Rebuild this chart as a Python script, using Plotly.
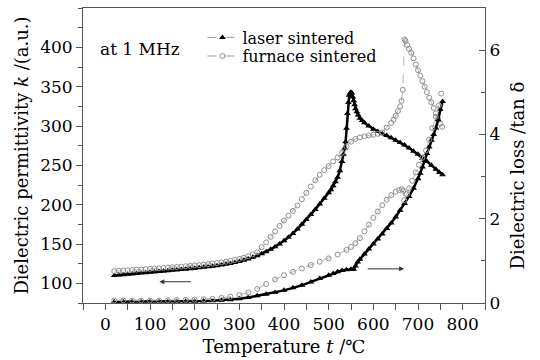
import plotly.graph_objects as go

# ---- Data ----
laser_perm_T = [20,30,40,50,60,70,80,90,100,110,120,130,140,150,160,170,180,190,200,210,220,230,240,250,
                260,270,280,290,300,310,320,330,340,350,360,370,380,390,400,410,420,430,440,450,460,470,480,490,
                500,505,510,515,520,525,530,533,536,538,540,542,544,546,548,550,552,554,556,558,560,563,566,570,
                575,580,590,600,610,620,630,640,650,660,670,680,690,700,710,720,730,740,748,755]
laser_perm_k = [110,110.5,111,111.5,112,112.5,113,113.5,114,114.5,115,115.5,116,116.5,117,117.5,118,118.5,119,
                119.7,120.4,121.1,121.8,122.5,123.3,124.2,125.2,126.4,127.8,129.3,131,133,135.2,137.6,140.2,143.2,
                146.5,150,154,158.5,163.5,169,175,181,187.5,194,201,208,215,219,224,229,235,243,255,264,272,280,
                297,316,330,339,342,343,342,337,332,327,322,318,314,310,307,304,300,296,293,290,288,285,282,279,
                276,272,268,264,259,255,250,245,241,238]

furnace_perm_T = [20,30,40,50,60,70,80,90,100,110,120,130,140,150,160,170,180,190,200,210,220,230,240,250,
                  260,270,280,290,300,310,320,330,340,350,360,370,380,390,400,410,420,430,440,450,460,470,480,490,
                  500,510,520,530,540,550,560,570,580,590,600,610,620,630,640,645,650,655,660,663,666,670,672,676,
                  680,685,690,695,700,705,710,715,720,725,730,735,740,745,750,754]
furnace_perm_k = [115.5,116,116.3,116.6,117,117.3,117.6,118,118.4,118.8,119.2,119.6,120,120.4,120.8,121.2,121.7,
                  122.2,122.7,123.2,123.8,124.4,125.1,125.8,126.6,127.5,128.5,129.7,131,132.6,134.5,136.8,139.5,
                  146,152,159,166,173,180,186,192,199,207,215,223,231,238,244,249,255,260,266,274,280,283.5,285.5,
                  287,288,289,290,292,298,304,308,313,319,325,332,346,410,408,403,398,393,386,378,371,364,357,350,
                  343,336,330,323,316,309,303,299]

laser_loss_T = [20,40,60,80,100,120,140,160,180,200,220,240,260,280,300,320,340,360,380,400,420,440,460,480,
                500,510,520,530,540,550,556,560,565,570,580,590,600,610,620,630,640,650,660,670,680,690,700,705,
                710,715,720,725,730,735,740,745,750,755]
laser_loss = [0.03,0.03,0.03,0.03,0.03,0.03,0.03,0.035,0.04,0.04,0.045,0.055,0.065,0.08,0.1,0.13,0.17,0.21,
              0.25,0.3,0.36,0.42,0.5,0.58,0.66,0.7,0.74,0.77,0.79,0.8,0.8,0.88,0.97,1.04,1.16,1.28,1.4,1.52,1.64,
              1.77,1.9,2.04,2.2,2.36,2.53,2.72,2.95,3.08,3.23,3.38,3.55,3.7,3.86,4.0,4.15,4.35,4.6,4.78]

furnace_loss_T = [20,40,60,80,100,120,140,160,180,200,220,240,260,280,300,320,340,360,380,400,420,440,460,480,
                  500,520,540,550,560,570,580,590,600,610,620,630,640,650,658,664,667,669,675,680,687,695,702,710,
                  718,725,732,740,747,752]
furnace_loss = [0.06,0.06,0.06,0.06,0.06,0.06,0.065,0.07,0.075,0.08,0.09,0.1,0.12,0.15,0.19,0.25,0.33,0.45,
                0.56,0.66,0.74,0.82,0.9,0.98,1.06,1.15,1.26,1.33,1.42,1.54,1.7,1.86,2.02,2.17,2.32,2.45,2.56,2.64,
                2.68,2.7,2.66,2.44,2.58,2.72,2.9,3.1,3.28,3.45,3.62,3.88,4.15,4.42,4.69,4.97]

x_ticks = [0, 100, 200, 300, 400, 500, 600, 700, 800]
k_ticks = [100, 150, 200, 250, 300, 350, 400]
loss_ticks = [0, 2, 4, 6]

series_names = ["laser sintered", "furnace sintered"]

FONT = "DejaVu Serif"
AX = "#555555"
GRAY = "#8f8f8f"

fig = go.Figure()

laser_marker = dict(symbol="triangle-up", size=6, color="black")
furn_marker = dict(symbol="circle-open", size=5, color=GRAY, line=dict(width=1))

fig.add_trace(go.Scatter(x=laser_perm_T, y=laser_perm_k, mode="lines+markers",
                         line=dict(color="black", width=2.5), marker=laser_marker,
                         showlegend=False, yaxis="y"))
fig.add_trace(go.Scatter(x=laser_loss_T, y=laser_loss, mode="lines+markers",
                         line=dict(color="black", width=2.5), marker=laser_marker,
                         showlegend=False, yaxis="y2"))
fig.add_trace(go.Scatter(x=furnace_perm_T, y=furnace_perm_k, mode="lines+markers",
                         line=dict(color="#b5b5b5", width=1, dash="dash"), marker=furn_marker,
                         showlegend=False, yaxis="y"))
fig.add_trace(go.Scatter(x=furnace_loss_T, y=furnace_loss, mode="lines+markers",
                         line=dict(color="#b5b5b5", width=1, dash="dash"), marker=furn_marker,
                         showlegend=False, yaxis="y2"))

# legend entries (no data points of their own)
fig.add_trace(go.Scatter(x=[None], y=[None], name=series_names[0], mode="lines+markers",
                         line=dict(color="#9a9a9a", width=1, dash="dash"), marker=laser_marker,
                         legend="legend"))
fig.add_trace(go.Scatter(x=[None], y=[None], name=series_names[1], mode="lines+markers",
                         line=dict(color="#9a9a9a", width=1, dash="dash"), marker=furn_marker,
                         legend="legend2"))

fig.update_layout(
    width=540, height=360,
    margin=dict(l=83, r=55, t=7, b=53),
    paper_bgcolor="white", plot_bgcolor="white",
    font=dict(family=FONT, size=17, color="black"),
    xaxis=dict(
        range=[-50, 850], tickvals=x_ticks, ticks="outside", ticklen=6, tickcolor=AX,
        showline=True, linecolor=AX, linewidth=1, mirror=True, showgrid=False, zeroline=False,
        minor=dict(dtick=50, tick0=0, ticks="outside", ticklen=6, tickcolor=AX),
        title=dict(text="Temperature <i>t</i> /℃", font=dict(size=18), standoff=6),
        tickfont=dict(size=17)),
    yaxis=dict(
        range=[75, 450], tickvals=k_ticks, ticks="outside", ticklen=6, tickcolor=AX,
        showline=True, linecolor=AX, linewidth=1, showgrid=False, zeroline=False,
        minor=dict(dtick=25, tick0=75, ticks="outside", ticklen=4, tickcolor=AX),
        title=dict(text="Dielectric permittivity <i>k</i> /(a.u.)", font=dict(size=18), standoff=6),
        tickfont=dict(size=17)),
    yaxis2=dict(
        overlaying="y", side="right", range=[0, 7], tickvals=loss_ticks,
        ticks="inside", ticklen=6, tickcolor=AX,
        showline=True, linecolor=AX, linewidth=1, showgrid=False, zeroline=False,
        minor=dict(dtick=1, tick0=0, ticks="inside", ticklen=4, tickcolor=AX),
        tickfont=dict(size=17)),
    legend=dict(x=0.297, y=0.90, xanchor="left", yanchor="middle", bgcolor="rgba(0,0,0,0)",
                font=dict(size=16), itemwidth=30),
    legend2=dict(x=0.297, y=0.837, xanchor="left", yanchor="middle", bgcolor="rgba(0,0,0,0)",
                 font=dict(size=16), itemwidth=30),
    annotations=[
        dict(x=-16, y=398, xref="x", yref="y", text="at 1 MHz", showarrow=False,
             xanchor="left", yanchor="middle", font=dict(size=17)),
        dict(x=1.08, y=0.433, xref="paper", yref="paper", text="Dielectric loss /tan δ",
             textangle=-90, showarrow=False, xanchor="center", yanchor="middle",
             font=dict(size=18)),
        dict(x=121, y=102, ax=195, ay=102, xref="x", yref="y", axref="x", ayref="y",
             text="", showarrow=True, arrowhead=2, arrowsize=1, arrowwidth=1, arrowcolor="#333"),
        dict(x=669, y=0.81, ax=584, ay=0.81, xref="x", yref="y2", axref="x", ayref="y2",
             text="", showarrow=True, arrowhead=2, arrowsize=1, arrowwidth=1, arrowcolor="#333"),
    ],
)

fig.write_html("out.html")
